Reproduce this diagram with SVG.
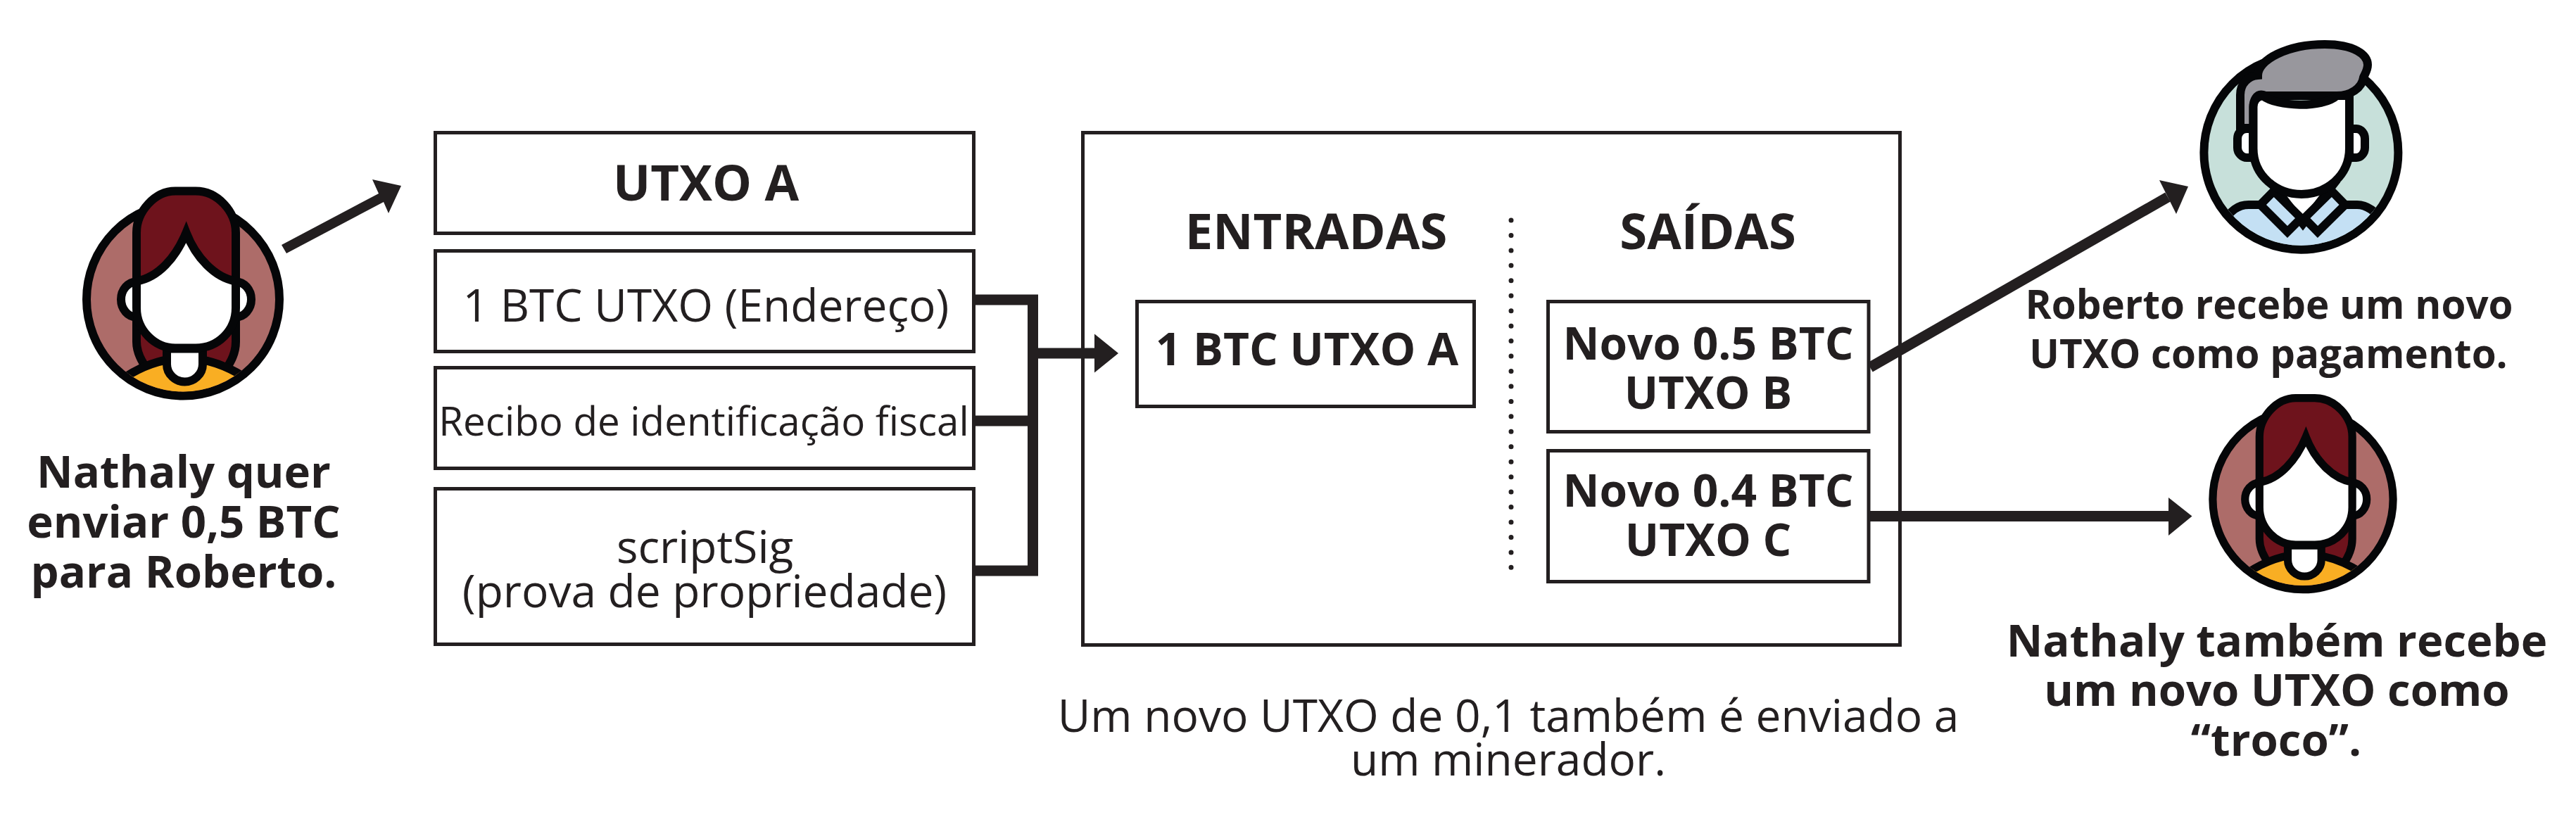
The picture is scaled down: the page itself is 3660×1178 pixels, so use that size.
<svg xmlns="http://www.w3.org/2000/svg" xmlns:xlink="http://www.w3.org/1999/xlink" width="3660" height="1178" viewBox="0 0 3660 1178">
<style>
text{font-family:"Open Sans","Noto Sans","Liberation Sans",sans-serif;fill:#231f20;text-anchor:middle}
.b{font-weight:700}
.cap{font-size:63.500px}
.big{font-size:70.500px}
.small{font-size:56.500px}
.box{font-size:64px}
.r{font-weight:400;font-size:64px}
.rect{fill:#fff;stroke:#231f20;stroke-width:5}
.ln{fill:none;stroke:#231f20;stroke-width:15}
.hd{fill:#231f20}
.o{stroke:#050608;stroke-width:12;stroke-linejoin:miter;stroke-miterlimit:8}
</style>
<defs>
<clipPath id="cw"><circle cx="0" cy="0" r="131"/></clipPath>
<clipPath id="cm"><circle cx="3269.4" cy="216.7" r="132"/></clipPath>
<g id="woman">
<circle class="o" r="137" fill="#ad6c69"/>
<path class="o" fill="#6e131c" d="M-66 -95C-66 -125 -40 -154 -11 -154L18 -154C49 -154 75 -125 75 -95L75 60C75 75 70 87 60 100L-50 100C-60 87 -66 75 -66 60Z"/>
<path class="o" fill="#f9ae23" clip-path="url(#cw)" d="M-85 112Q2 55 90 112L90 150L-85 150Z"/>
<ellipse class="o" cx="-66" cy="0" rx="22" ry="25" fill="#fff"/>
<ellipse class="o" cx="75" cy="0" rx="22" ry="25" fill="#fff"/>
<path class="o" fill="#fff" d="M-23 70L-23 92C-23 107 -10 117 2.500 117C15 117 28 107 28 92L28 70Z"/>
<path class="o" fill="#fff" d="M-66 -26C-35 -31 -10 -60 4.500 -95C18 -60 45 -31 75 -26L75 12C75 44 50 69 18 69L-11 69C-40 69 -66 44 -66 12Z"/>
</g>
</defs>

<g id="connectors">
<path class="ln" d="M1386 426H1467.500V811H1386M1386 598H1467.500M1467.500 502H1560"/>
<polygon class="hd" points="1555,474.500 1589,502 1555,529.500"/>
<polygon class="hd" points="400,348 538,275 529,255 570,264 552,303 545,287 407,360"/>
<path class="ln" d="M2657 522L3080 280"/>
<polygon class="hd" points="3068,256 3109,265 3092,304"/>
<path class="ln" d="M2657 733.500H3085"/>
<polygon class="hd" points="3081,707 3114.500,733.500 3081,761"/>
</g>

<g id="main-box"><rect class="rect" style="fill:none" x="1538.500" y="188.500" width="1161" height="728"/>
<text class="b big" x="1870" y="353.600">ENTRADAS</text>
<text class="b big" x="2426.600" y="353.600">SAÍDAS</text>
<path d="M2147 313V810" fill="none" stroke="#231f20" stroke-width="7" stroke-linecap="round" stroke-dasharray="0 21.450"/>
</g>

<g id="utxo-a"><rect class="rect" x="618.500" y="188.500" width="765" height="143"/><text class="b big" x="1003" y="285.400">UTXO A</text></g>
<g id="endereco"><rect class="rect" x="618.500" y="356.500" width="765" height="143"/><text class="r" x="1003" y="457">1 BTC UTXO (Endereço)</text></g>
<g id="recibo"><rect class="rect" x="618.500" y="522.500" width="765" height="143"/><text class="r" style="font-size:56.500px" x="1000" y="619.400">Recibo de identificação fiscal</text></g>
<g id="scriptsig"><rect class="rect" x="618.500" y="694.500" width="765" height="221"/><text class="r" x="1001.600" y="800">scriptSig</text><text class="r" x="1001" y="862.500">(prova de propriedade)</text></g>

<g id="input-a"><rect class="rect" x="1615.500" y="428.500" width="479" height="149"/><text class="b box" x="1857" y="518.500">1 BTC UTXO A</text></g>
<g id="output-b"><rect class="rect" x="2199.500" y="428.500" width="455.500" height="185"/><text class="b box" x="2427" y="511">Novo 0.5 BTC</text><text class="b box" x="2427" y="581">UTXO B</text></g>
<g id="output-c"><rect class="rect" x="2199.500" y="640.500" width="455.500" height="186"/><text class="b box" x="2427" y="720">Novo 0.4 BTC</text><text class="b box" x="2427" y="790">UTXO C</text></g>

<g id="nathaly-left"><use xlink:href="#woman" href="#woman" transform="translate(260 425.500)"/>
<text class="b cap" x="261" y="693">Nathaly quer</text><text class="b cap" x="261" y="763.700">enviar 0,5 BTC</text><text class="b cap" x="261" y="835">para Roberto.</text></g>

<g id="roberto">
<circle class="o" cx="3269.400" cy="216.700" r="138" fill="#c7e0da"/>
<path class="o" fill="#c4e0f4" clip-path="url(#cm)" d="M3155 320C3170 298 3180 291 3195 291L3349 291C3360 291 3375 298 3390 320L3390 400L3155 400Z"/>
<polygon class="o" fill="#fff" points="3231,265 3272,318 3313,265"/>
<polygon class="o" fill="#c4e0f4" points="3230.600,271.500 3269.500,310 3250,329.500 3211.500,291"/>
<polygon class="o" fill="#c4e0f4" points="3313,271.500 3274,310 3293,329.500 3332,291"/>
<path class="o" fill="#fff" d="M3201 183L3192 183C3184 183 3179 190 3179 197L3179 210C3179 218 3186 224 3192 224L3201 224Z"/>
<path class="o" fill="#fff" d="M3338 183L3348 183C3355 183 3360 190 3360 197L3360 210C3360 218 3354 224 3348 224L3338 224Z"/>
<path class="o" fill="#98979d" d="M3183 182L3183 135C3183 118 3195 108 3208 107C3208 85 3250 63 3303 63C3345 63 3364 78 3364 92C3364 100 3360 105 3358 110C3356 125 3340 136 3320 136L3219 136C3205 130 3201.500 145 3201.500 152L3201.500 182Z"/>
<path class="o" fill="#fff" d="M3201.500 152C3201.500 142 3208 137 3215 136C3235 152 3300 154 3320 136L3338 136L3338 211C3338 250 3305 276 3270 276C3235 276 3201.500 250 3201.500 211Z"/>
<text class="b small" x="3224" y="453">Roberto recebe um novo</text><text class="b small" x="3223" y="523">UTXO como pagamento.</text>
</g>

<g id="nathaly-right"><use xlink:href="#woman" href="#woman" transform="translate(3272 709.600) scale(.935)"/>
<text class="b cap" x="3235" y="933">Nathaly também recebe</text><text class="b cap" x="3235" y="1002.500">um novo UTXO como</text><text class="b cap" x="3234" y="1074">“troco”.</text></g>

<g id="note"><text class="r" x="2143" y="1040">Um novo UTXO de 0,1 também é enviado a</text><text class="r" x="2143" y="1101.500">um minerador.</text></g>
</svg>
